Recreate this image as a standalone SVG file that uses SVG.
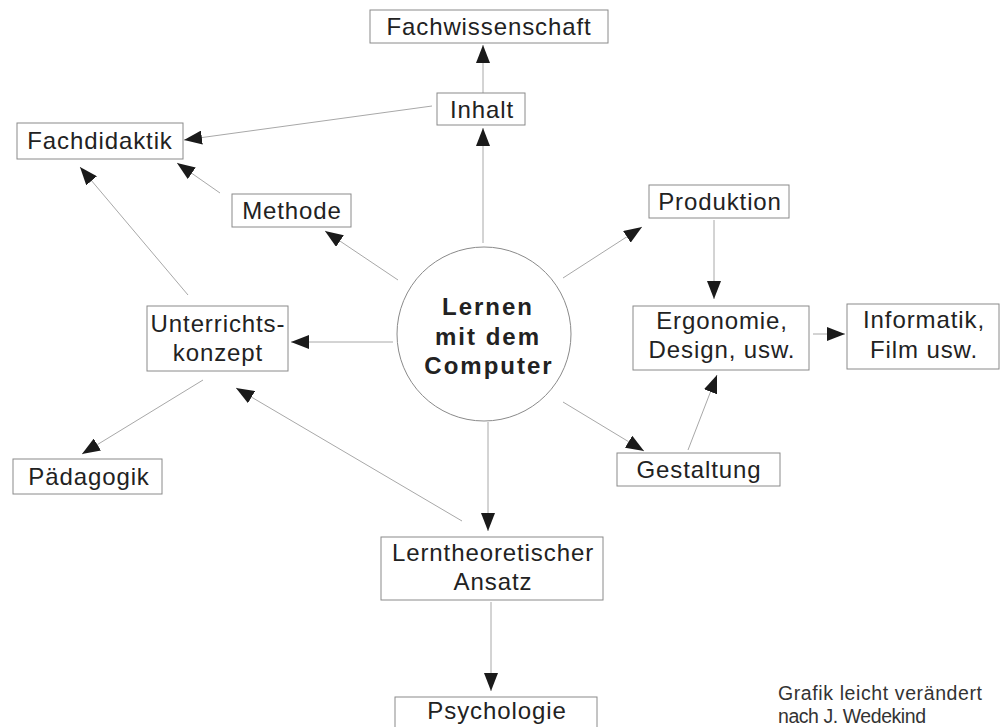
<svg xmlns="http://www.w3.org/2000/svg" width="1003" height="727" viewBox="0 0 1003 727">
<style>
.box{fill:#fff;stroke:#8a8a8a;stroke-width:1}
.lbl{font-family:"Liberation Sans",Arial,sans-serif;font-size:24px;letter-spacing:0.9px;fill:#222;text-anchor:middle}
.ctr{font-family:"Liberation Sans",Arial,sans-serif;font-size:24px;font-weight:bold;letter-spacing:2px;fill:#222;text-anchor:middle}
.note{font-family:"Liberation Sans",Arial,sans-serif;font-size:19.5px;fill:#333}
.con{stroke:#a8a8a8;stroke-width:1;fill:none;marker-end:url(#ah)}
</style>
<defs>
<marker id="ah" markerUnits="userSpaceOnUse" markerWidth="20" markerHeight="14" refX="18" refY="7" orient="auto">
<path d="M0,0 L18,7 L0,14 z" fill="#1a1a1a"/>
</marker>
</defs>
<rect width="1003" height="727" fill="#fff"/>
<g id="connectors">
<line class="con" x1="483" y1="93" x2="483" y2="45"/>
<line class="con" x1="432" y1="106" x2="184" y2="140"/>
<line class="con" x1="483" y1="243" x2="483" y2="128"/>
<line class="con" x1="220" y1="193" x2="177" y2="163"/>
<line class="con" x1="398" y1="280" x2="325" y2="231"/>
<line class="con" x1="188" y1="295" x2="80" y2="167"/>
<line class="con" x1="563" y1="278" x2="642" y2="227"/>
<line class="con" x1="714" y1="220" x2="714" y2="299"/>
<line class="con" x1="813" y1="334" x2="845" y2="334"/>
<line class="con" x1="563" y1="402" x2="644" y2="451"/>
<line class="con" x1="688" y1="450" x2="717" y2="375"/>
<line class="con" x1="393" y1="342" x2="291" y2="342"/>
<line class="con" x1="203" y1="380" x2="82" y2="454"/>
<line class="con" x1="462" y1="521" x2="236" y2="388"/>
<line class="con" x1="488" y1="422" x2="488" y2="531"/>
<line class="con" x1="491" y1="602" x2="491" y2="691"/>
</g>
<g id="center">
<circle cx="484" cy="334" r="87" fill="#fff" stroke="#8a8a8a" stroke-width="1"/>
<text class="ctr" x="488" y="315">Lernen</text>
<text class="ctr" x="488" y="345">mit dem</text>
<text class="ctr" x="489" y="374">Computer</text>
</g>
<g id="fachwissenschaft">
<rect class="box" x="370" y="10" width="238" height="33"/>
<text class="lbl" x="489" y="35">Fachwissenschaft</text>
</g>
<g id="inhalt">
<rect class="box" x="437" y="93" width="88" height="32"/>
<text class="lbl" x="482" y="118">Inhalt</text>
</g>
<g id="fachdidaktik">
<rect class="box" x="17" y="123" width="166" height="36"/>
<text class="lbl" x="100" y="149">Fachdidaktik</text>
</g>
<g id="methode">
<rect class="box" x="232" y="194" width="119" height="33"/>
<text class="lbl" x="292" y="219">Methode</text>
</g>
<g id="produktion">
<rect class="box" x="649" y="185" width="140" height="33"/>
<text class="lbl" x="720" y="210">Produktion</text>
</g>
<g id="unterrichtskonzept">
<rect class="box" x="147" y="306" width="141" height="65"/>
<text class="lbl" x="218" y="332">Unterrichts-</text>
<text class="lbl" x="218" y="361">konzept</text>
</g>
<g id="ergonomie">
<rect class="box" x="633" y="306" width="176" height="64"/>
<text class="lbl" x="722" y="329">Ergonomie,</text>
<text class="lbl" x="722" y="358">Design, usw.</text>
</g>
<g id="informatik">
<rect class="box" x="847" y="304" width="152" height="65"/>
<text class="lbl" x="924" y="328">Informatik,</text>
<text class="lbl" x="924" y="358">Film usw.</text>
</g>
<g id="paedagogik">
<rect class="box" x="13" y="459" width="149" height="35"/>
<text class="lbl" x="89" y="485">Pädagogik</text>
</g>
<g id="gestaltung">
<rect class="box" x="617" y="453" width="163" height="33"/>
<text class="lbl" x="699" y="478">Gestaltung</text>
</g>
<g id="lerntheoretischer">
<rect class="box" x="381" y="537" width="222" height="63"/>
<text class="lbl" x="493" y="561">Lerntheoretischer</text>
<text class="lbl" x="493" y="590">Ansatz</text>
</g>
<g id="psychologie">
<rect class="box" x="395" y="697" width="202" height="40"/>
<text class="lbl" x="497" y="719">Psychologie</text>
</g>
<g id="note">
<text class="note" x="778" y="700" textLength="204" lengthAdjust="spacing">Grafik leicht verändert</text>
<text class="note" x="778" y="723" textLength="148" lengthAdjust="spacing">nach J. Wedekind</text>
</g>
</svg>
